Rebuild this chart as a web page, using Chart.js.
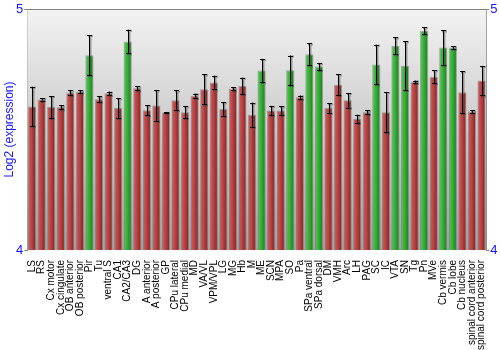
<!DOCTYPE html>
<html>
<head>
<meta charset="utf-8">
<script src="https://cdn.jsdelivr.net/npm/chart.js@4.4.1/dist/chart.umd.min.js"></script>
<style>
  html, body { margin: 0; padding: 0; background: #fff; }
</style>
</head>
<body>
<canvas id="exprChart" width="500" height="350"></canvas>
<script>
// Brain regions, log2 expression and error per region
const regions = ['LS', 'RS', 'Cx motor', 'Cx cingulate', 'OB anterior', 'OB posterior', 'Pir', 'Tu',
  'ventral S', 'CA1', 'CA2/CA3', 'DG', 'A anterior', 'A posterior', 'GP', 'CPu lateral', 'CPu medial',
  'MD', 'VA/VL', 'VPM/VPL', 'LG', 'MG', 'Hb', 'M', 'ME', 'SCN', 'MPA', 'SO', 'Pa', 'SPa ventral',
  'SPa dorsal', 'DM', 'VMH', 'Arc', 'LH', 'PAG', 'SC', 'IC', 'VTA', 'SN', 'Tg', 'Pn', 'MVe',
  'Cb vermis', 'Cb lobe', 'Cb nucleus', 'spinal cord anterior', 'spinal cord posterior'];

const log2Expr = [4.595, 4.625, 4.593, 4.592, 4.652, 4.657, 4.808, 4.626,
  4.650, 4.589, 4.865, 4.671, 4.580, 4.600, 4.571, 4.621, 4.572,
  4.640, 4.667, 4.695, 4.585, 4.669, 4.681, 4.561, 4.745, 4.579, 4.579, 4.746, 4.634, 4.812,
  4.761, 4.589, 4.686, 4.621, 4.545, 4.572, 4.770, 4.572, 4.847, 4.765, 4.698, 4.910, 4.719,
  4.840, 4.840, 4.655, 4.575, 4.703];

const errors = [0.082, 0.005, 0.046, 0.008, 0.010, 0.005, 0.083, 0.011,
  0.007, 0.041, 0.049, 0.008, 0.021, 0.064, 0.002, 0.041, 0.024,
  0.009, 0.062, 0.028, 0.028, 0.006, 0.034, 0.050, 0.048, 0.019, 0.017, 0.061, 0.007, 0.045,
  0.014, 0.020, 0.043, 0.030, 0.016, 0.008, 0.082, 0.084, 0.035, 0.101, 0.005, 0.014, 0.027,
  0.071, 0.005, 0.087, 0.005, 0.061];

// regions drawn in green
const greenRegions = ['Pir', 'CA2/CA3', 'ME', 'SO', 'SPa ventral', 'SPa dorsal', 'SC', 'VTA', 'SN',
  'Pn', 'Cb vermis', 'Cb lobe'];

const yTicks = [4, 5];

const BAR_PCT = 0.86;
const FONT = '"Liberation Sans", Arial, sans-serif';

function barFill(c) {
  const chart = c.chart;
  const xs = chart.scales.x;
  const isGreen = greenRegions.indexOf(regions[c.dataIndex]) >= 0;
  const flat = isGreen ? '#33aa33' : '#b03c3c';
  if (!xs || c.type !== 'data') return flat;
  const x = xs.getPixelForValue(c.dataIndex);
  const w = xs.width / regions.length * BAR_PCT;
  if (!Number.isFinite(x) || !Number.isFinite(w) || w <= 0) return flat;
  const g = chart.ctx.createLinearGradient(x - w / 2, 0, x + w / 2, 0);
  if (isGreen) {
    g.addColorStop(0, '#1f7a1f');
    g.addColorStop(0.18, '#48c248');
    g.addColorStop(0.45, '#37ad37');
    g.addColorStop(1, '#1a7a1a');
  } else {
    g.addColorStop(0, '#7e2020');
    g.addColorStop(0.18, '#c95555');
    g.addColorStop(0.45, '#b94343');
    g.addColorStop(1, '#822020');
  }
  return g;
}

// grey backdrop behind the bars plus a frame line on top
const backdrop = {
  id: 'backdrop',
  beforeDatasetsDraw(chart) {
    const a = chart.chartArea, ctx = chart.ctx;
    const g = ctx.createLinearGradient(0, a.top, 0, a.bottom);
    g.addColorStop(0, '#f3f3f3');
    g.addColorStop(1, '#a4a4a4');
    ctx.save();
    ctx.fillStyle = g;
    ctx.fillRect(a.left, a.top, a.right - a.left, a.bottom - a.top);
    ctx.restore();
  },
  afterDraw(chart) {
    const a = chart.chartArea, ctx = chart.ctx;
    ctx.save();
    ctx.strokeStyle = '#808080';
    ctx.lineWidth = 1;
    ctx.beginPath();
    ctx.moveTo(a.left, Math.round(a.top) + 0.5);
    ctx.lineTo(a.right, Math.round(a.top) + 0.5);
    ctx.stroke();
    ctx.restore();
  }
};

// error bars with a soft shadow
const errorBars = {
  id: 'errorBars',
  afterDatasetsDraw(chart) {
    const ctx = chart.ctx;
    const y = chart.scales.y;
    const meta = chart.getDatasetMeta(0);
    ctx.save();
    meta.data.forEach((bar, i) => {
      const x = Math.round(bar.x) + 0.5;
      const top = y.getPixelForValue(log2Expr[i] + errors[i]);
      const bot = y.getPixelForValue(log2Expr[i] - errors[i]);
      // shadow
      ctx.strokeStyle = 'rgba(60,60,60,0.45)';
      ctx.lineWidth = 2;
      ctx.beginPath();
      ctx.moveTo(x + 1, top + 1); ctx.lineTo(x + 1, bot + 1);
      ctx.moveTo(x - 1.5, top + 1); ctx.lineTo(x + 3.5, top + 1);
      ctx.moveTo(x - 1.5, bot + 1); ctx.lineTo(x + 3.5, bot + 1);
      ctx.stroke();
      // bar
      ctx.strokeStyle = '#000';
      ctx.lineWidth = 1;
      ctx.beginPath();
      ctx.moveTo(x, top); ctx.lineTo(x, bot);
      ctx.moveTo(x - 2.5, Math.round(top) + 0.5); ctx.lineTo(x + 2.5, Math.round(top) + 0.5);
      ctx.moveTo(x - 2.5, Math.round(bot) + 0.5); ctx.lineTo(x + 2.5, Math.round(bot) + 0.5);
      ctx.stroke();
    });
    ctx.restore();
  }
};

const yAxisBase = {
  min: yTicks[0],
  max: yTicks[yTicks.length - 1],
  afterBuildTicks(scale) { scale.ticks = yTicks.map(v => ({ value: v })); },
  ticks: { color: '#1414ff', font: { family: FONT, size: 13 }, padding: 1 },
  grid: { drawOnChartArea: false, tickLength: 3, color: '#808080' },
  border: { display: true, color: '#808080' }
};

new Chart(document.getElementById('exprChart').getContext('2d'), {
  type: 'bar',
  data: {
    labels: regions,
    datasets: [{
      data: log2Expr,
      backgroundColor: barFill,
      borderColor: 'rgba(110,110,110,0.55)',
      borderWidth: 1,
      borderSkipped: 'bottom',
      barPercentage: BAR_PCT,
      categoryPercentage: 1
    }]
  },
  options: {
    responsive: false,
    animation: false,
    events: [],
    layout: { padding: { top: 9, left: 0, right: 0, bottom: 0 } },
    plugins: { legend: { display: false }, tooltip: { enabled: false } },
    scales: {
      x: {
        grid: { display: false },
        border: { display: false },
        ticks: {
          autoSkip: false, maxRotation: 90, minRotation: 90, padding: 2,
          color: '#000', font: { family: FONT, size: 10 }
        },
        afterFit(scale) { scale.height = 100; }
      },
      y: Object.assign({}, yAxisBase, {
        position: 'left',
        title: {
          display: true, text: 'Log2 (expression)', color: '#1414ff',
          font: { family: FONT, size: 12 }, padding: { top: 2, bottom: 0 }
        },
        afterFit(scale) { scale.width = 27.3; }
      }),
      y2: Object.assign({}, yAxisBase, {
        position: 'right',
        afterFit(scale) { scale.width = 13.7; }
      })
    }
  },
  plugins: [backdrop, errorBars]
});
</script>
</body>
</html>
